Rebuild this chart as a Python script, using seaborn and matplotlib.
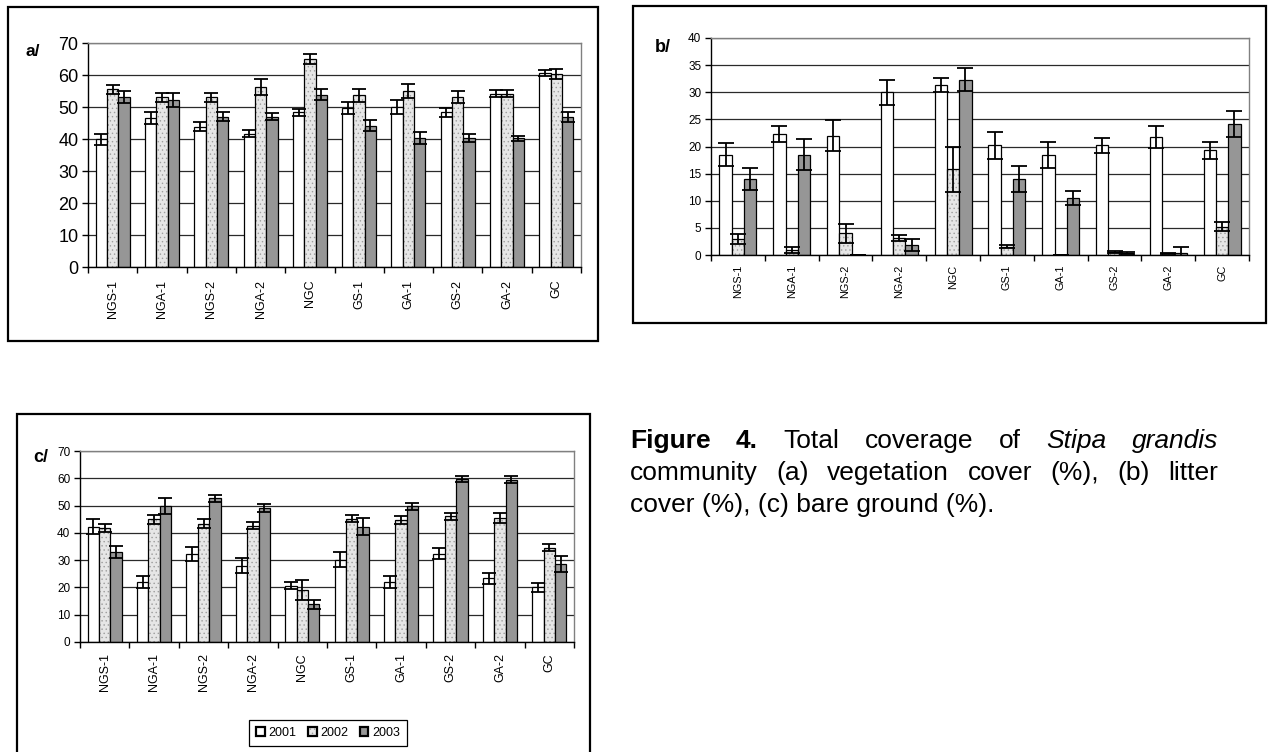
import numpy as np
import pandas as pd
import matplotlib
matplotlib.use("Agg")
import matplotlib.pyplot as plt
from matplotlib.patches import Rectangle
import seaborn as sns

# ---------------------------------------------------------------- data
sites = ["NGS-1", "NGA-1", "NGS-2", "NGA-2", "NGC", "GS-1", "GA-1", "GS-2", "GA-2", "GC"]
years = ["2001", "2002", "2003"]

# (a) vegetation cover (%) and standard errors
veg_2001 = [39.9, 46.6, 43.9, 41.7, 48.3, 49.6, 50.1, 48.4, 54.2, 60.6]
veg_2002 = [55.5, 53.0, 53.0, 56.1, 65.1, 53.6, 55.1, 53.2, 54.2, 60.3]
veg_2003 = [53.2, 52.2, 47.0, 47.0, 53.9, 44.2, 40.4, 40.4, 40.2, 46.8]
veg_err_2001 = [1.8, 1.8, 1.4, 1.0, 1.2, 1.9, 2.2, 1.4, 1.2, 0.9]
veg_err_2002 = [1.4, 1.5, 1.5, 2.5, 1.6, 2.1, 2.2, 1.8, 1.2, 1.5]
veg_err_2003 = [1.9, 2.2, 1.5, 1.1, 1.8, 1.7, 1.9, 1.2, 0.8, 1.5]

# (b) litter cover (%) and standard errors
lit_2001 = [18.5, 22.3, 22.0, 30.0, 31.4, 20.2, 18.5, 20.2, 21.7, 19.3]
lit_2002 = [3.0, 0.9, 4.0, 3.1, 15.8, 1.5, 0.0, 0.6, 0.3, 5.2]
lit_2003 = [14.0, 18.5, 0.0, 1.8, 32.3, 14.0, 10.5, 0.4, 0.4, 24.1]
lit_err_2001 = [2.1, 1.5, 2.8, 2.3, 1.3, 2.5, 2.4, 1.4, 2.0, 1.6]
lit_err_2002 = [0.9, 0.5, 1.7, 0.5, 4.2, 0.3, 0.0, 0.2, 0.1, 0.8]
lit_err_2003 = [2.0, 2.9, 0.0, 1.1, 2.1, 2.4, 1.3, 0.2, 1.0, 2.4]

# (c) bare ground (%) and standard errors
bare_2001 = [42.2, 22.0, 32.3, 28.0, 20.7, 30.2, 22.0, 32.3, 23.3, 20.0]
bare_2002 = [41.8, 44.9, 43.4, 42.6, 19.0, 45.2, 44.6, 46.1, 45.5, 34.6]
bare_2003 = [33.0, 49.8, 52.6, 49.0, 13.8, 42.3, 49.8, 59.7, 59.5, 28.6]
bare_err_2001 = [2.8, 2.3, 2.7, 2.7, 1.2, 2.8, 2.3, 2.0, 2.0, 1.8]
bare_err_2002 = [1.5, 1.8, 1.8, 1.2, 3.6, 1.3, 1.4, 1.3, 1.9, 1.3]
bare_err_2003 = [2.1, 2.9, 1.3, 1.5, 1.7, 3.0, 1.3, 1.0, 1.2, 2.8]

# ---------------------------------------------------------------- style
sns.set_style("white")
plt.rcParams["font.family"] = ["Liberation Sans", "DejaVu Sans"]
plt.rcParams["text.color"] = "black"
plt.rcParams["xtick.color"] = "black"
plt.rcParams["ytick.color"] = "black"
plt.rcParams["hatch.linewidth"] = 0.5

W, H = 1268, 752
fig = plt.figure(figsize=(W / 100, H / 100), dpi=100)
fig.patch.set_facecolor("white")

palette = {"2001": "#ffffff", "2002": "#e6e6e6", "2003": "#969696"}


def px_rect(left, top, right, bottom):
    return [left / W, 1 - bottom / H, (right - left) / W, (bottom - top) / H]


def frame(left, top, right, bottom, lw=1.6):
    fig.add_artist(Rectangle((left / W, 1 - bottom / H), (right - left) / W,
                             (bottom - top) / H, transform=fig.transFigure,
                             fill=False, edgecolor="black", linewidth=lw))


def panel(rect, means, errs, ymax, ystep, ysize, xsize, xpad, capsize):
    ax = fig.add_axes(px_rect(*rect))
    df = pd.DataFrame([{"site": s, "year": y, "value": v}
                       for y, vals in zip(years, means)
                       for s, v in zip(sites, vals)])
    sns.barplot(data=df, x="site", y="value", hue="year", order=sites,
                hue_order=years, palette=palette, saturation=1,
                edgecolor="black", linewidth=0.9, width=0.69,
                errorbar=None, legend=False, ax=ax)
    # fine dotted fill for the 2002 series
    for p in ax.containers[1]:
        p.set_hatch("....")
        p._hatch_color = (0.62, 0.62, 0.62, 1.0)
    # standard-error bars centred on each bar
    for cont, vals, err in zip(ax.containers, means, errs):
        xs = [p.get_x() + p.get_width() / 2 for p in cont]
        ax.errorbar(xs, vals, yerr=err, fmt="none", ecolor="black",
                    elinewidth=1.3, capsize=capsize, capthick=1.3, zorder=5)

    ax.set_xlim(-0.5, len(sites) - 0.5)
    ax.set_ylim(0, ymax)
    ax.set_yticks(np.arange(0, ymax + 1, ystep))
    ax.set_xlabel("")
    ax.set_ylabel("")
    ax.yaxis.grid(True, color="#2a2a2a", linewidth=0.9)
    ax.set_axisbelow(True)

    ax.set_xticks(range(len(sites)), sites)
    ax.set_xticks(np.arange(-0.5, len(sites)), minor=True)
    ax.tick_params(axis="x", which="major", length=0, pad=xpad,
                   labelsize=xsize, labelrotation=90, bottom=True)
    ax.tick_params(axis="x", which="minor", length=4, width=1,
                   direction="out", bottom=True)
    ax.tick_params(axis="y", length=4, width=1, direction="out",
                   labelsize=ysize, pad=3, left=True)

    for side in ("left", "bottom"):
        ax.spines[side].set_color("black")
        ax.spines[side].set_linewidth(1.0)
    for side in ("top", "right"):
        ax.spines[side].set_color("#808080")
        ax.spines[side].set_linewidth(1.0)
    return ax


# ---------------------------------------------------------------- panels
frame(8, 7, 598, 341)
ax_a = panel((88, 43, 581, 267),
             [veg_2001, veg_2002, veg_2003],
             [veg_err_2001, veg_err_2002, veg_err_2003],
             70, 10, ysize=13, xsize=9, xpad=9, capsize=4.7)
fig.text(26 / W, 1 - 52 / H, "a/", fontsize=12.5, fontweight="bold", va="center")

frame(633, 6, 1266, 323)
ax_b = panel((711, 38, 1249, 255),
             [lit_2001, lit_2002, lit_2003],
             [lit_err_2001, lit_err_2002, lit_err_2003],
             40, 5, ysize=8.5, xsize=7.8, xpad=7, capsize=5.5)
fig.text(655 / W, 1 - 47 / H, "b/", fontsize=13, fontweight="bold", va="center")

frame(17, 414, 590, 770)
ax_c = panel((80, 451, 574, 642),
             [bare_2001, bare_2002, bare_2003],
             [bare_err_2001, bare_err_2002, bare_err_2003],
             70, 10, ysize=8.5, xsize=9, xpad=8, capsize=4.8)
fig.text(33 / W, 1 - 457 / H, "c/", fontsize=13, fontweight="bold", va="center")

handles = [cont[0] for cont in ax_c.containers]
leg = ax_c.legend(handles, years, loc="center", ncol=3,
                  bbox_to_anchor=(328 / W, 1 - 733 / H),
                  bbox_transform=fig.transFigure, frameon=True,
                  fancybox=False, edgecolor="black", framealpha=1,
                  fontsize=9, handlelength=0.7, handleheight=0.7,
                  handletextpad=0.3, columnspacing=0.9, borderpad=0.55)
leg.get_frame().set_linewidth(0.9)
for h in leg.legend_handles:
    h.set_linewidth(1.6)

# ---------------------------------------------------------------- caption
renderer = fig.canvas.get_renderer()
cap_size = 19
cap_left, cap_right = 630, 1218


def caption_line(words, baseline):
    texts = [fig.text(0, 1 - baseline / H, w, fontsize=cap_size, va="baseline", **kw)
             for w, kw in words]
    widths = [t.get_window_extent(renderer).width for t in texts]
    gap = (cap_right - cap_left - sum(widths)) / (len(texts) - 1)
    x = cap_left
    for t, w in zip(texts, widths):
        t.set_x(x / W)
        x += w + gap


bold = {"fontweight": "bold"}
ital = {"fontstyle": "italic"}
caption_line([("Figure", bold), ("4.", bold), ("Total", {}), ("coverage", {}),
              ("of", {}), ("Stipa", ital), ("grandis", ital)], 448)
caption_line([("community", {}), ("(a)", {}), ("vegetation", {}), ("cover", {}),
              ("(%),", {}), ("(b)", {}), ("litter", {})], 480)
fig.text(cap_left / W, 1 - 512 / H, "cover (%), (c) bare ground (%).",
         fontsize=cap_size, va="baseline")

fig.savefig("out.png", dpi=100)
